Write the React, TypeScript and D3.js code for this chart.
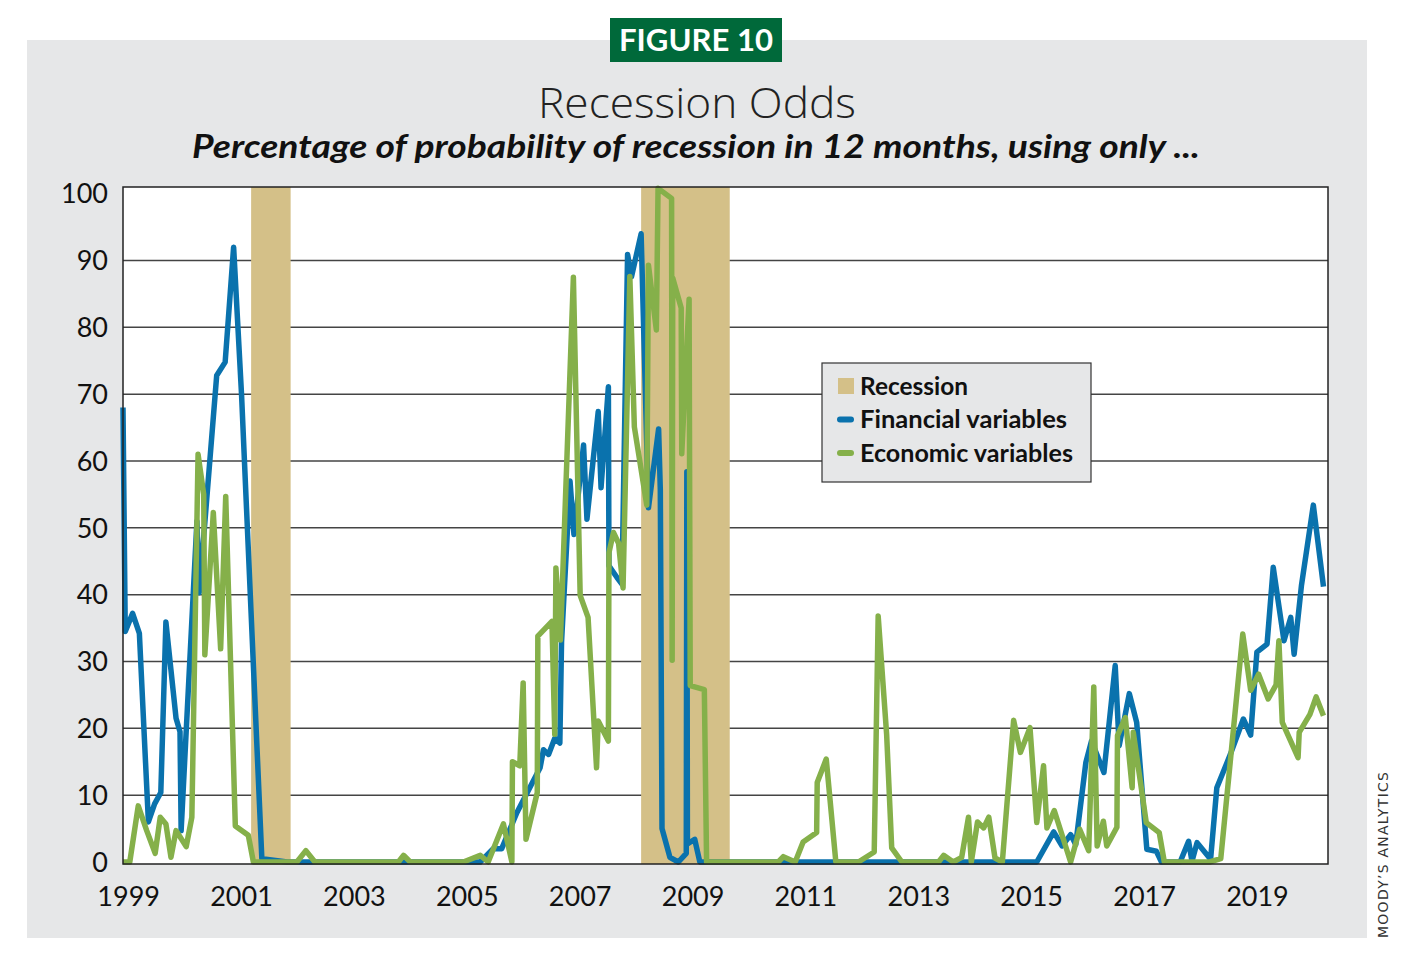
import * as d3 from 'd3';

// Financial-variables model, decimal year -> probability (%)
const finDates = [
  1998.9, 1998.94, 1999.07, 1999.19, 1999.35, 1999.46, 1999.57, 1999.66, 1999.79, 1999.84,
  1999.91, 1999.93, 2000.21, 2000.25, 2000.56, 2000.71, 2000.86, 2001.0, 2001.36, 2001.81,
  2004.93, 2005.23, 2005.46, 2005.61, 2005.88, 2006.29, 2006.35, 2006.44, 2006.55, 2006.64,
  2006.67, 2006.82, 2006.89, 2007.06, 2007.12, 2007.32, 2007.37, 2007.5, 2007.51, 2007.65,
  2007.74, 2007.84, 2007.91, 2008.08, 2008.21, 2008.39, 2008.42, 2008.45, 2008.59, 2008.74,
  2008.88, 2008.89, 2008.9, 2009.03, 2009.12, 2015.09, 2015.39, 2015.54, 2015.69, 2015.78,
  2015.96, 2016.06, 2016.28, 2016.48, 2016.55, 2016.73, 2016.86, 2017.04, 2017.21, 2017.3,
  2017.63, 2017.78, 2017.84, 2017.93, 2018.17, 2018.28, 2018.52, 2018.75, 2018.88, 2018.99,
  2019.17, 2019.28, 2019.47, 2019.59, 2019.65, 2019.78, 2019.99, 2020.17,
];
const finValues = [
  68, 34.5, 37.2, 34.2, 6.0, 8.7, 10.4, 35.9, 25.5, 21.5,
  19.5, 4.7, 51, 40.3, 72.8, 74.8, 92, 70, 0.5, 0,
  0, 0, 2.0, 2.0, 7.4, 14.1, 16.8, 16.1, 18.5, 17.8,
  32.9, 57.0, 49.0, 62.4, 51.3, 67.4, 56.0, 71.1, 44.3, 42.6,
  41.6, 90.9, 87.6, 94.0, 53, 64.8, 55.7, 5.0, 0.7, 0,
  1.3, 58.4, 2.7, 3.4, 0, 0, 4.5, 2.4, 4.1, 2.6,
  14.9, 18.1, 13.4, 29.4, 17.4, 25.2, 20.9, 1.9, 1.6, 0,
  0, 3.1, 0.1, 2.9, 0.4, 11.1, 16.1, 21.4, 19.0, 31.4,
  32.6, 44.1, 33.1, 36.6, 31.1, 41.4, 53.4, 41.2,
];

// Economic-variables model
const econDates = [
  1998.9, 1999.02, 1999.17, 1999.32, 1999.47, 1999.56, 1999.66, 1999.75, 1999.84, 2000.02,
  2000.12, 2000.23, 2000.33, 2000.35, 2000.5, 2000.63, 2000.72, 2000.89, 2001.12, 2001.21,
  2001.98, 2002.14, 2002.3, 2003.78, 2003.87, 2003.99, 2004.93, 2005.23, 2005.37, 2005.64,
  2005.79, 2005.8, 2005.93, 2005.99, 2006.04, 2006.24, 2006.25, 2006.5, 2006.55, 2006.57,
  2006.65, 2006.88, 2007.0, 2007.14, 2007.29, 2007.32, 2007.5, 2007.51, 2007.59, 2007.68,
  2007.76, 2007.88, 2007.96, 2008.18, 2008.21, 2008.35, 2008.38, 2008.62, 2008.63, 2008.64,
  2008.79, 2008.8, 2008.93, 2008.95, 2009.2, 2009.24, 2010.51, 2010.6, 2010.81, 2010.95,
  2011.19, 2011.2, 2011.36, 2011.53, 2011.93, 2012.21, 2012.28, 2012.43, 2012.52, 2012.7,
  2013.35, 2013.44, 2013.61, 2013.76, 2013.88, 2013.93, 2014.04, 2014.15, 2014.24, 2014.35,
  2014.48, 2014.68, 2014.8, 2014.97, 2015.09, 2015.21, 2015.27, 2015.4, 2015.69, 2015.85,
  2016.01, 2016.1, 2016.16, 2016.27, 2016.33, 2016.51, 2016.52, 2016.66, 2016.78, 2016.8,
  2017.03, 2017.26, 2017.35, 2018.15, 2018.35, 2018.74, 2018.88, 2019.02, 2019.19, 2019.33,
  2019.38, 2019.44, 2019.72, 2019.74, 2019.93, 2020.04, 2020.17,
];
const econValues = [
  0, 0, 8.4, 4.7, 1.3, 6.7, 5.7, 0.7, 4.7, 2.3,
  6.7, 61, 55, 31, 52.3, 31.9, 54.7, 5.4, 4.0, 0,
  0, 1.7, 0, 0, 1.0, 0, 0, 1.0, 0, 5.7,
  0, 15.0, 14.4, 26.8, 3.4, 10.4, 33.8, 36.0, 19.1, 44.0,
  33.2, 87.5, 39.9, 36.6, 14.1, 21.1, 18.1, 46.3, 49.3, 47.7,
  41.0, 87.6, 65.1, 53.4, 89.3, 79.6, 100.8, 99.3, 30.2, 87.4,
  82.9, 61.1, 84.2, 26.4, 25.8, 0, 0, 0.8, 0, 3.0,
  4.4, 11.9, 15.4, 0, 0, 1.5, 36.8, 19.1, 2.1, 0,
  0, 1.0, 0, 0.7, 6.7, 0, 6.0, 5.1, 6.7, 0.6,
  0, 21.2, 16.4, 20.1, 5.9, 14.4, 5.1, 7.7, 0, 4.9,
  1.7, 26.2, 2.4, 6.1, 2.4, 5.2, 18.9, 21.6, 11.1, 19.4,
  5.9, 4.4, 0, 0, 0.5, 34.1, 25.7, 28.1, 24.4, 26.5,
  33.1, 20.9, 15.6, 19.4, 22.1, 24.7, 21.9,
];

// NBER recessions
const recessionStart = [2001.17, 2008.08];
const recessionEnd = [2001.87, 2009.65];

const yTicks = [0, 10, 20, 30, 40, 50, 60, 70, 80, 90, 100];
const xTicks = [1999, 2001, 2003, 2005, 2007, 2009, 2011, 2013, 2015, 2017, 2019];
const legendLabels = ['Recession', 'Financial variables', 'Economic variables'];

const W = 1409;
const H = 953;
const plot = { left: 123, right: 1328, top: 187, bottom: 864 };

const BLUE = '#0a72ad';
const GREEN = '#85b04a';
const TAN = '#d4c088';
const PANEL = '#e6e7e8';
const FONT = 'Lato, "Open Sans", sans-serif';

export default function App() {
  const x = d3.scaleLinear().domain([1998.9, 2020.25]).range([plot.left, plot.right]);
  const y = d3.scaleLinear().domain([0, 101]).range([862, plot.top]);

  const line = d3
    .line<[number, number]>()
    .x((d) => x(d[0]))
    .y((d) => y(d[1]));

  const finPath = line(finDates.map((d, i) => [d, finValues[i]]) as [number, number][]) || '';
  const econPath = line(econDates.map((d, i) => [d, econValues[i]]) as [number, number][]) || '';

  const legendColors = [TAN, BLUE, GREEN];
  const legendWidths = [108, 207, 213];

  return (
    <div style={{ position: 'absolute', left: 0, top: 0 }}>
      <svg width={W} height={H} style={{ display: 'block', background: '#fff' }}>
        <rect x={27} y={40} width={1340} height={898} fill={PANEL} />

        {/* heading */}
        <rect x={610} y={18} width={172} height={44} fill="#00693a" />
        <text
          x={696}
          y={51}
          textAnchor="middle"
          fill="#fff"
          fontFamily={FONT}
          fontWeight={700}
          fontSize={30}
          textLength={154}
          lengthAdjust="spacingAndGlyphs"
        >
          FIGURE 10
        </text>
        <text
          x={697}
          y={118}
          textAnchor="middle"
          fill="#222"
          fontFamily={'"Open Sans", sans-serif'}
          fontWeight={300}
          fontSize={43}
          textLength={318}
          lengthAdjust="spacingAndGlyphs"
        >
          Recession Odds
        </text>
        <text
          x={696}
          y={158}
          textAnchor="middle"
          fill="#111"
          fontFamily={FONT}
          fontStyle="italic"
          fontWeight={700}
          fontSize={32}
          textLength={1008}
          lengthAdjust="spacingAndGlyphs"
        >
          Percentage of probability of recession in 12 months, using only ...
        </text>

        {/* plot area */}
        <rect x={plot.left} y={plot.top} width={plot.right - plot.left} height={plot.bottom - plot.top} fill="#fff" />
        {yTicks
          .filter((t) => t > 0 && t < 100)
          .map((t) => (
            <line key={t} x1={plot.left} x2={plot.right} y1={y(t)} y2={y(t)} stroke="#444" strokeWidth={1.5} />
          ))}
        {recessionStart.map((s, i) => (
          <rect
            key={s}
            x={x(s)}
            y={plot.top}
            width={x(recessionEnd[i]) - x(s)}
            height={plot.bottom - plot.top}
            fill={TAN}
          />
        ))}

        <path d={finPath} fill="none" stroke={BLUE} strokeWidth={5.5} strokeLinejoin="round" />
        <path d={econPath} fill="none" stroke={GREEN} strokeWidth={5.5} strokeLinejoin="round" />

        <rect
          x={plot.left}
          y={plot.top}
          width={plot.right - plot.left}
          height={plot.bottom - plot.top}
          fill="none"
          stroke="#222"
          strokeWidth={1.5}
        />

        {/* axes */}
        {yTicks.map((t) => (
          <text
            key={t}
            x={108}
            y={y(t)}
            dy="0.36em"
            textAnchor="end"
            fontFamily={FONT}
            fontSize={27}
            fill="#111"
          >
            {t}
          </text>
        ))}
        {xTicks.map((t) => (
          <text
            key={t}
            x={x(t)}
            y={906}
            textAnchor="middle"
            fontFamily={FONT}
            fontSize={27}
            fill="#111"
          >
            {t}
          </text>
        ))}

        {/* legend */}
        <rect x={822} y={363} width={269} height={119} fill={PANEL} stroke="#333" strokeWidth={1.2} />
        {legendLabels.map((label, i) => {
          const cy = 386 + i * 33.5;
          return (
            <g key={label}>
              {i === 0 ? (
                <rect x={838} y={cy - 8} width={16} height={16} fill={legendColors[i]} />
              ) : (
                <line
                  x1={840}
                  x2={851}
                  y1={cy}
                  y2={cy}
                  stroke={legendColors[i]}
                  strokeWidth={6}
                  strokeLinecap="round"
                />
              )}
              <text
                x={860}
                y={cy}
                dy="0.36em"
                fontFamily={FONT}
                fontWeight={700}
                fontSize={24}
                fill="#111"
                textLength={legendWidths[i]}
                lengthAdjust="spacingAndGlyphs"
              >
                {label}
              </text>
            </g>
          );
        })}

        <text
          transform="translate(1388,938) rotate(-90)"
          fontFamily={'"DejaVu Sans", sans-serif'}
          fontSize={14}
          textLength={166}
          fill="#333"
        >
          MOODY’S ANALYTICS
        </text>
      </svg>
    </div>
  );
}
